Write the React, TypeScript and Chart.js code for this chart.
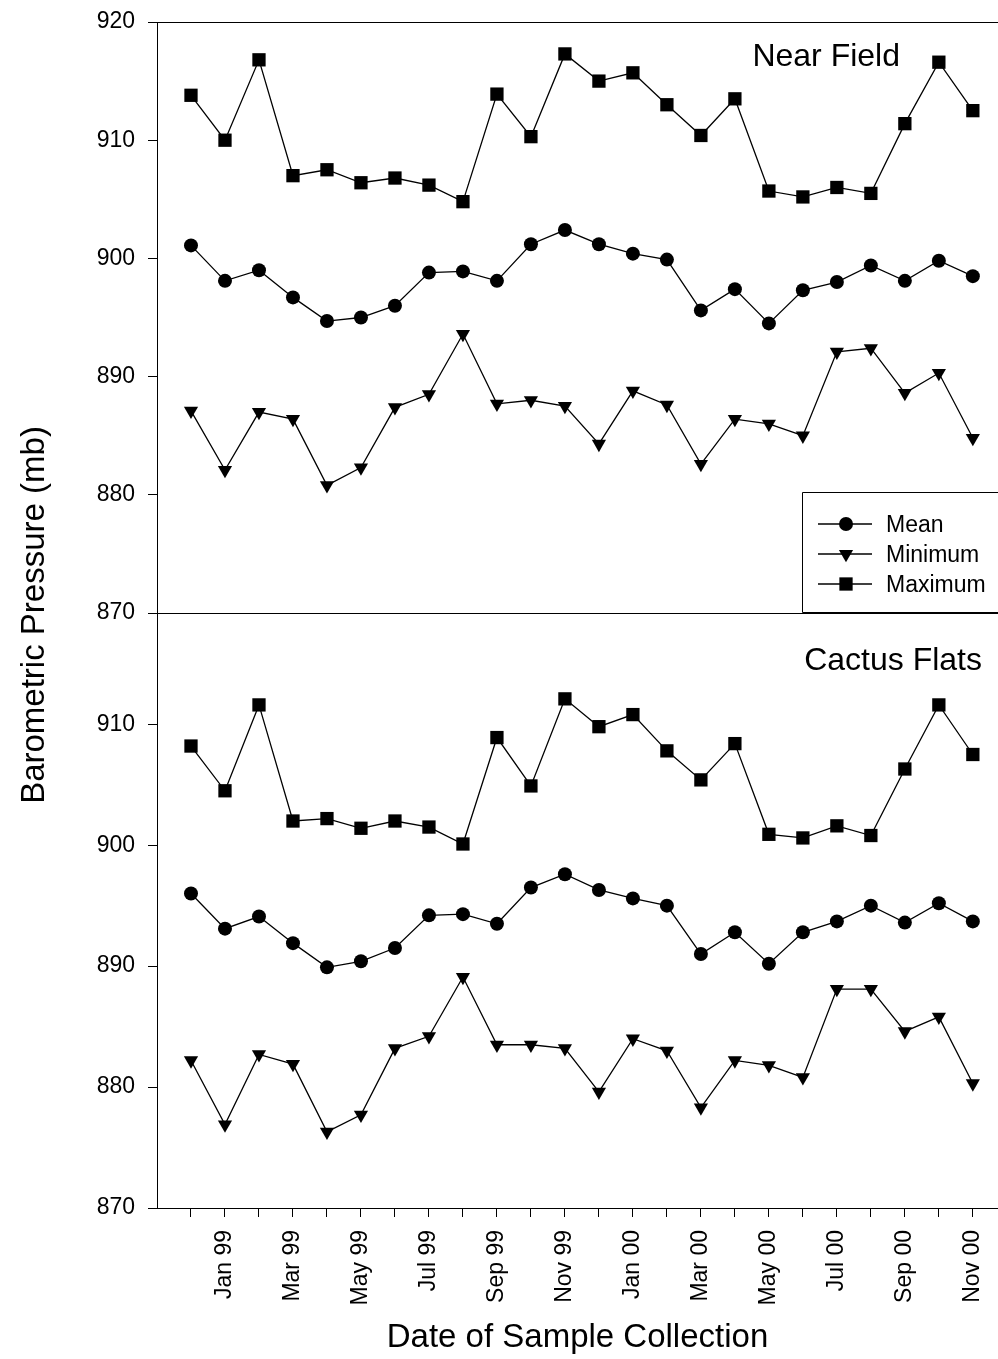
import React, { useEffect, useRef } from 'react';
import { Chart, registerables } from 'chart.js';

Chart.register(...registerables);

// ---- data ----
const monthLabels = [
  'Dec 98', 'Jan 99', 'Feb 99', 'Mar 99', 'Apr 99', 'May 99', 'Jun 99', 'Jul 99',
  'Aug 99', 'Sep 99', 'Oct 99', 'Nov 99', 'Dec 99', 'Jan 00', 'Feb 00', 'Mar 00',
  'Apr 00', 'May 00', 'Jun 00', 'Jul 00', 'Aug 00', 'Sep 00', 'Oct 00', 'Nov 00',
];
const labelledMonths = [
  'Jan 99', 'Mar 99', 'May 99', 'Jul 99', 'Sep 99', 'Nov 99',
  'Jan 00', 'Mar 00', 'May 00', 'Jul 00', 'Sep 00', 'Nov 00',
];
const topYTicks = [870, 880, 890, 900, 910, 920];
const bottomYTicks = [870, 880, 890, 900, 910];

const nearMean = [901.1, 898.1, 899.0, 896.7, 894.7, 895.0, 896.0, 898.8, 898.9, 898.1, 901.2, 902.4,
  901.2, 900.4, 899.9, 895.6, 897.4, 894.5, 897.3, 898.0, 899.4, 898.1, 899.8, 898.5];
const nearMin = [887.1, 882.1, 887.0, 886.4, 880.8, 882.3, 887.4, 888.5, 893.6, 887.7, 888.0, 887.5,
  884.3, 888.8, 887.6, 882.6, 886.4, 886.0, 885.0, 892.1, 892.4, 888.6, 890.3, 884.8];
const nearMax = [913.8, 910.0, 916.8, 907.0, 907.5, 906.4, 906.8, 906.2, 904.8, 913.9, 910.3, 917.3,
  915.0, 915.7, 913.0, 910.4, 913.5, 905.7, 905.2, 906.0, 905.5, 911.4, 916.6, 912.5];

const cactusMean = [896.0, 893.1, 894.1, 891.9, 889.9, 890.4, 891.5, 894.2, 894.3, 893.5, 896.5, 897.6,
  896.3, 895.6, 895.0, 891.0, 892.8, 890.2, 892.8, 893.7, 895.0, 893.6, 895.2, 893.7];
const cactusMin = [882.2, 876.9, 882.7, 881.9, 876.3, 877.7, 883.2, 884.2, 889.1, 883.5, 883.5, 883.2,
  879.6, 884.0, 883.0, 878.3, 882.2, 881.8, 880.8, 888.1, 888.1, 884.6, 885.8, 880.3];
const cactusMax = [908.2, 904.5, 911.6, 902.0, 902.2, 901.4, 902.0, 901.5, 900.1, 908.9, 904.9, 912.1,
  909.8, 910.8, 907.8, 905.4, 908.4, 900.9, 900.6, 901.6, 900.8, 906.3, 911.6, 907.5];

const seriesNames = ['Mean', 'Minimum', 'Maximum'];
const panelNames = ['Near Field', 'Cactus Flats'];
const yTitle = 'Barometric Pressure (mb)';
const xTitle = 'Date of Sample Collection';

const FONT = '"Liberation Sans", Arial, Helvetica, sans-serif';

const toPoints = (arr: number[]) => arr.map((v, i) => ({ x: i + 1, y: v }));

const styleFor = (name: string) => {
  if (name === 'Mean') return { pointStyle: 'circle', pointRadius: 7, rotation: 0 };
  if (name === 'Minimum') return { pointStyle: 'triangle', pointRadius: 8.2, rotation: 180 };
  return { pointStyle: 'rect', pointRadius: 9.4, rotation: 0 };
};

const makeDataset = (name: string, arr: number[], axis: string) => {
  const s = styleFor(name);
  return {
    label: name,
    data: toPoints(arr),
    yAxisID: axis,
    borderColor: '#000',
    backgroundColor: '#000',
    borderWidth: 1.3,
    pointStyle: s.pointStyle,
    pointRadius: s.pointRadius,
    pointRotation: s.rotation,
    pointBorderWidth: 0,
    pointBackgroundColor: '#000',
    pointBorderColor: '#000',
    tension: 0,
    fill: false,
    clip: false,
  };
};

function drawMarker(ctx: CanvasRenderingContext2D, name: string, x: number, y: number) {
  ctx.beginPath();
  if (name === 'Mean') {
    ctx.arc(x, y, 7, 0, Math.PI * 2);
  } else if (name === 'Minimum') {
    const r = 8.2;
    ctx.moveTo(x, y + r);
    ctx.lineTo(x - r * Math.sin(Math.PI / 3), y - r / 2);
    ctx.lineTo(x + r * Math.sin(Math.PI / 3), y - r / 2);
    ctx.closePath();
  } else {
    const h = 9.4 * Math.SQRT1_2;
    ctx.rect(x - h, y - h, 2 * h, 2 * h);
  }
  ctx.fill();
}

const decorPlugin = {
  id: 'decor',
  afterDraw(chart: any) {
    const { ctx, chartArea } = chart;
    const yT = chart.scales.yT;
    const yB = chart.scales.yB;
    const xS = chart.scales.x;
    ctx.save();
    ctx.strokeStyle = '#000';
    ctx.lineWidth = 1;
    // top frame line and panel separator
    ctx.beginPath();
    const t = Math.round(yT.top) + 0.5;
    const m = Math.round(yT.bottom) + 0.5;
    ctx.moveTo(chartArea.left, t);
    ctx.lineTo(chartArea.right + 2, t);
    ctx.moveTo(chartArea.left, m);
    ctx.lineTo(chartArea.right + 2, m);
    ctx.stroke();

    // panel labels
    ctx.fillStyle = '#000';
    ctx.font = `32px ${FONT}`;
    ctx.textAlign = 'right';
    ctx.textBaseline = 'alphabetic';
    ctx.fillText(panelNames[0], 900, yT.top + 44);
    ctx.fillText(panelNames[1], 982, yB.top + 57);

    // legend
    const bx = 802.5;
    const by = 492.5;
    ctx.fillStyle = '#fff';
    ctx.fillRect(bx, by, chart.width - bx + 5, m - 1 - by);
    ctx.beginPath();
    ctx.moveTo(chart.width + 5, by);
    ctx.lineTo(bx, by);
    ctx.lineTo(bx, m - 1);
    ctx.lineTo(chart.width + 5, m - 1);
    ctx.strokeStyle = '#000';
    ctx.stroke();
    const rows = [524, 554, 584];
    ctx.font = `23px ${FONT}`;
    ctx.textAlign = 'left';
    seriesNames.forEach((name, i) => {
      const ry = rows[i];
      ctx.beginPath();
      ctx.lineWidth = 1.3;
      ctx.moveTo(818, ry);
      ctx.lineTo(872, ry);
      ctx.stroke();
      ctx.fillStyle = '#000';
      drawMarker(ctx, name, 846, ry);
      ctx.fillText(name, 886, ry + 8);
    });

    // axis titles
    ctx.font = `33px ${FONT}`;
    ctx.textAlign = 'center';
    ctx.textBaseline = 'alphabetic';
    ctx.fillText(xTitle, (xS.left + xS.right) / 2, 1347);
    ctx.save();
    ctx.translate(44, (yT.top + yB.bottom) / 2);
    ctx.rotate(-Math.PI / 2);
    ctx.fillText(yTitle, 0, 0);
    ctx.restore();
    ctx.restore();
  },
};

const yScale = (ticks: number[], min: number, max: number, weight: number) => ({
  type: 'linear',
  position: 'left',
  stack: 'panels',
  stackWeight: weight,
  min,
  max,
  afterBuildTicks: (s: any) => {
    s.ticks = ticks.map((v) => ({ value: v }));
  },
  afterFit: (s: any) => {
    s.width = 157;
    s.paddingTop = 0;
    s.paddingBottom = 0;
  },
  grid: { display: true, drawOnChartArea: false, drawTicks: true, tickLength: 9, color: '#000', lineWidth: 1 },
  border: { display: true, color: '#000', width: 1 },
  ticks: { color: '#000', padding: 13, font: { family: FONT, size: 23 } },
  title: { display: false },
});

export default function App() {
  const ref = useRef<HTMLCanvasElement | null>(null);
  useEffect(() => {
    document.body.style.margin = '0';
    const canvas = ref.current;
    if (!canvas) return;
    const chart = new Chart(canvas, {
      type: 'line',
      data: {
        datasets: [
          makeDataset('Mean', nearMean, 'yT'),
          makeDataset('Minimum', nearMin, 'yT'),
          makeDataset('Maximum', nearMax, 'yT'),
          makeDataset('Mean', cactusMean, 'yB'),
          makeDataset('Minimum', cactusMin, 'yB'),
          makeDataset('Maximum', cactusMax, 'yB'),
        ],
      },
      options: {
        animation: false,
        responsive: false,
        devicePixelRatio: 1,
        layout: { autoPadding: false, padding: { top: 22, right: 0, left: 0, bottom: 0 } },
        plugins: { legend: { display: false }, tooltip: { enabled: false } },
        scales: {
          x: {
            type: 'linear',
            position: 'bottom',
            min: 0,
            max: 24.74,
            afterBuildTicks: (s: any) => {
              s.ticks = monthLabels.map((_, i) => ({ value: i + 1 }));
            },
            afterFit: (s: any) => {
              s.height = 151;
              s.paddingLeft = 0;
              s.paddingRight = 0;
            },
            grid: { display: true, drawOnChartArea: false, drawTicks: true, tickLength: 9, color: '#000', lineWidth: 1 },
            border: { display: true, color: '#000', width: 1 },
            ticks: {
              autoSkip: false,
              minRotation: 90,
              maxRotation: 90,
              padding: 13,
              color: '#000',
              font: { family: FONT, size: 23 },
              callback: (v: any) => {
                const l = monthLabels[Math.round(Number(v)) - 1];
                return labelledMonths.includes(l) ? l : '';
              },
            },
          },
          yB: yScale(bottomYTicks, 870, 919.2, 595),
          yT: yScale(topYTicks, 870, 920, 591),
        },
      } as any,
      plugins: [decorPlugin],
    });
    return () => chart.destroy();
  }, []);
  return (
    <div style={{ width: 998, height: 1359, background: '#fff' }}>
      <canvas ref={ref} width={998} height={1359} style={{ display: 'block' }} />
    </div>
  );
}
